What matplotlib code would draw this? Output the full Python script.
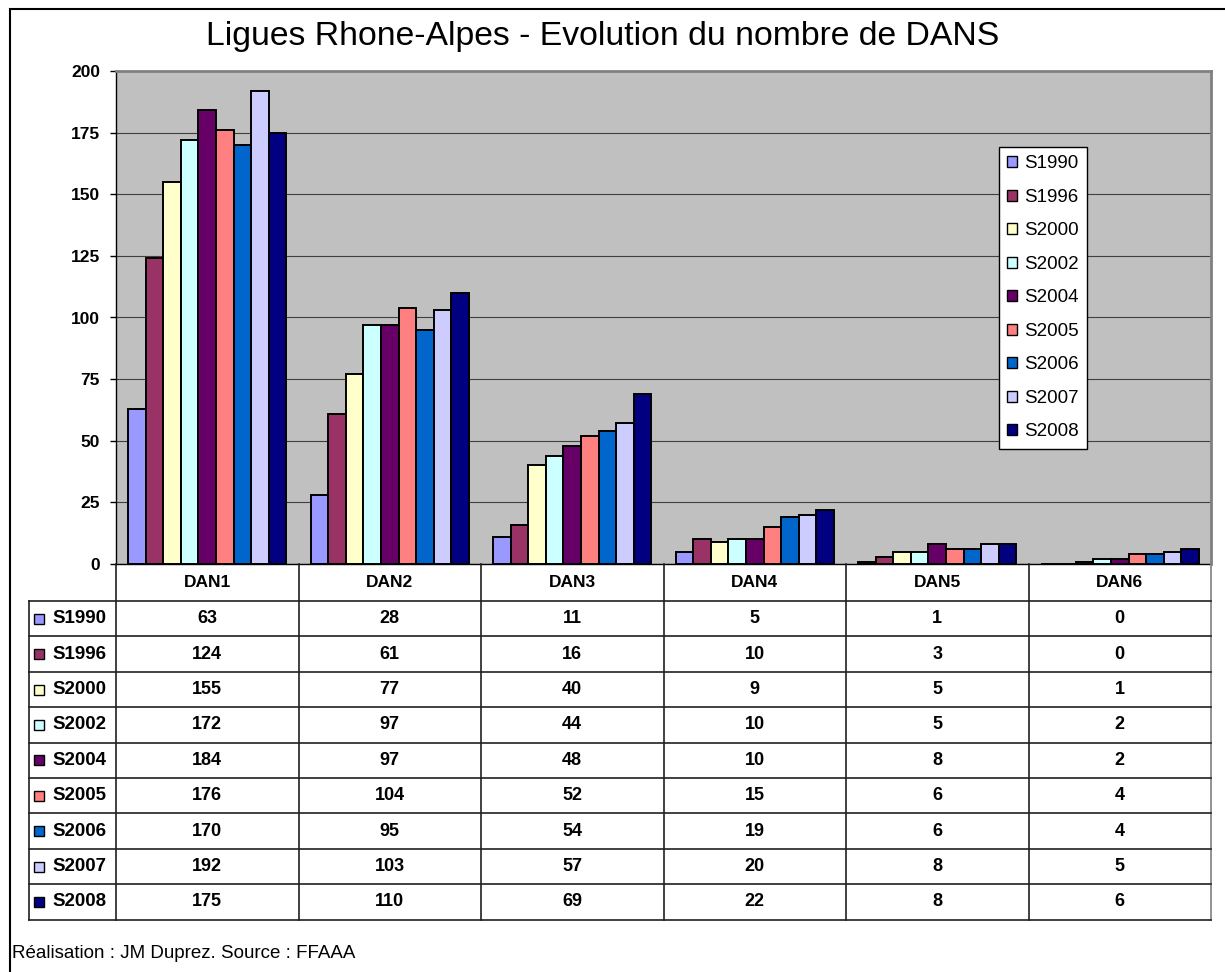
import numpy as np
from matplotlib import pyplot as plt
from matplotlib.patches import Patch, Rectangle

plt.rcParams['font.family'] = ['Liberation Sans', 'DejaVu Sans']

categories = ['DAN1', 'DAN2', 'DAN3', 'DAN4', 'DAN5', 'DAN6']
seasons = ['S1990', 'S1996', 'S2000', 'S2002', 'S2004',
           'S2005', 'S2006', 'S2007', 'S2008']
s1990 = [63, 28, 11, 5, 1, 0]
s1996 = [124, 61, 16, 10, 3, 0]
s2000 = [155, 77, 40, 9, 5, 1]
s2002 = [172, 97, 44, 10, 5, 2]
s2004 = [184, 97, 48, 10, 8, 2]
s2005 = [176, 104, 52, 15, 6, 4]
s2006 = [170, 95, 54, 19, 6, 4]
s2007 = [192, 103, 57, 20, 8, 5]
s2008 = [175, 110, 69, 22, 8, 6]
values = [s1990, s1996, s2000, s2002, s2004, s2005, s2006, s2007, s2008]
colors = ['#9999FF', '#993366', '#FFFFCC', '#CCFFFF', '#660066',
          '#FF8080', '#0066CC', '#CCCCFF', '#000080']

W, H = 1225, 972
fig = plt.figure(figsize=(W / 100, H / 100), dpi=100)


def fx(px):
    return px / W


def fy(py):
    return 1 - py / H


# outer frame of the chart
fig.add_artist(Rectangle((fx(10), fy(1000)), fx(1300), fy(9) - fy(1000),
                         transform=fig.transFigure, fill=False,
                         edgecolor='black', linewidth=1.5))

# plot area
left, right, top, bottom = 116, 1211, 71, 564
ax = fig.add_axes([fx(left), fy(bottom), fx(right - left), fy(top) - fy(bottom)])
ax.set_facecolor('#C0C0C0')
n = len(seasons)
bw = 0.096
x = np.arange(len(categories))
for i, (vals, c) in enumerate(zip(values, colors)):
    ax.bar(x + (i - (n - 1) / 2) * bw, vals, width=bw, color=c,
           edgecolor='black', linewidth=1.4, zorder=3)
ax.set_xlim(-0.5, len(categories) - 0.5)
ax.set_ylim(0, 200)
ax.set_yticks(range(0, 201, 25))
ax.set_yticklabels([str(v) for v in range(0, 201, 25)], fontsize=12.5,
                   fontweight='bold')
ax.yaxis.grid(True, color='#404040', linewidth=0.8, zorder=0)
ax.set_xticks([])
ax.tick_params(axis='y', direction='out', length=4.5, width=1, pad=7)
for s in ['top', 'right']:
    ax.spines[s].set_color('#808080')
    ax.spines[s].set_linewidth(2)
    ax.spines[s].set_zorder(4)
ax.spines['left'].set_linewidth(1)
ax.spines['bottom'].set_linewidth(1)

handles = [Patch(facecolor=c, edgecolor='black', linewidth=1) for c in colors]
leg = ax.legend(handles, seasons, loc='upper left',
                bbox_to_anchor=(fx(999), fy(147)),
                bbox_transform=fig.transFigure, fontsize=13.5,
                handlelength=0.5, handleheight=0.5, handletextpad=0.4,
                labelspacing=0.88, borderpad=0.45, borderaxespad=0,
                fancybox=False, framealpha=1, edgecolor='black')
leg.get_frame().set_linewidth(1)

# data table below the plot
tab = fig.add_axes([0, 0, 1, 1])
tab.set_xlim(0, W)
tab.set_ylim(H, 0)
tab.axis('off')
col_edges = np.linspace(left, right, len(categories) + 1)
row_top, row_h = 601, 35.4
lc = '#202020'
for xe in col_edges:
    tab.plot([xe, xe], [bottom, row_top + n * row_h],
             color=lc if xe < right - 1 else '#808080', linewidth=1.2)
tab.plot([29, 29], [row_top, row_top + n * row_h], color=lc, linewidth=1.2)
for r in range(n + 1):
    tab.plot([29, right], [row_top + r * row_h] * 2, color=lc, linewidth=1.2)
for j, cat in enumerate(categories):
    cx = (col_edges[j] + col_edges[j + 1]) / 2
    tab.text(cx, (bottom + row_top) / 2, cat, ha='center', va='center',
             fontsize=12.5, fontweight='bold')
for i, (name, vals, c) in enumerate(zip(seasons, values, colors)):
    cy = row_top + (i + 0.5) * row_h
    tab.add_patch(Rectangle((34, cy - 5), 10, 10, facecolor=c,
                            edgecolor='black', linewidth=1))
    tab.text(52, cy, name, ha='left', va='center', fontsize=13.5,
             fontweight='bold')
    for j, v in enumerate(vals):
        cx = (col_edges[j] + col_edges[j + 1]) / 2
        tab.text(cx, cy, str(v), ha='center', va='center', fontsize=13,
                 fontweight='bold')

fig.text(fx(603), fy(37), 'Ligues Rhone-Alpes - Evolution du nombre de DANS',
         ha='center', va='center', fontsize=24.3)
fig.text(fx(12), fy(953), 'Réalisation : JM Duprez. Source : FFAAA',
         ha='left', va='center', fontsize=13.5)

fig.savefig('out.png', dpi=100)
